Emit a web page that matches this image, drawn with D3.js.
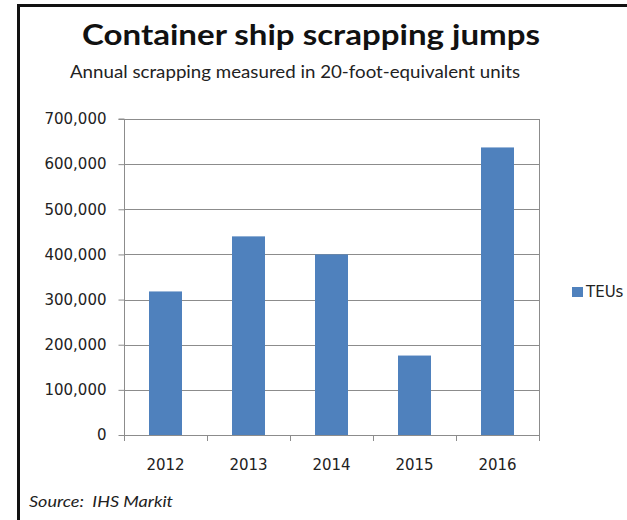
<!DOCTYPE html>
<html><head><meta charset="utf-8">
<script src="https://cdn.jsdelivr.net/npm/d3@7"></script>
<style>body{margin:0;background:#fff}svg{display:block}</style>
</head><body>
<svg id="c" width="627" height="520"></svg>
<script>
const categories = ["2012","2013","2014","2015","2016"];
const teus = [318000, 440000, 400000, 176000, 637000];
const yTicks = [0,100000,200000,300000,400000,500000,600000,700000];
const title = "Container ship scrapping jumps";
const subtitle = "Annual scrapping measured in 20-foot-equivalent units";
const seriesName = "TEUs";
const source = "Source:  IHS Markit";

const svg = d3.select("#c");
const W = 627, H = 520;
const plot = {left:124, right:539, top:119, bottom:435};
const blue = "#4f81bd", grid = "#8c8c8c";

// frame
svg.append("rect").attr("x",18.5).attr("y",5.5).attr("width",W).attr("height",H)
  .attr("fill","none").attr("stroke","#111").attr("stroke-width",3);

const xb = d3.scaleBand().domain(categories).range([plot.left, plot.right]);
const y = d3.scaleLinear().domain([0,700000]).range([plot.bottom, plot.top]);

// gridlines
svg.append("g").selectAll("line").data(yTicks.filter(d=>d>0)).join("line")
  .attr("x1",plot.left).attr("x2",plot.right)
  .attr("y1",d=>Math.round(y(d))+0.5).attr("y2",d=>Math.round(y(d))+0.5)
  .attr("stroke",grid).attr("stroke-width",1);
svg.append("line").attr("x1",plot.right+0.5).attr("x2",plot.right+0.5)
  .attr("y1",plot.top).attr("y2",plot.bottom).attr("stroke",grid);

// bars
svg.append("g").selectAll("rect").data(categories).join("rect")
  .attr("x",(d)=>xb(d)+xb.bandwidth()/2-16.5)
  .attr("width",33)
  .attr("y",(d,i)=>y(teus[i]))
  .attr("height",(d,i)=>plot.bottom-y(teus[i]))
  .attr("fill",blue);

// y axis
const ya = svg.append("g").attr("transform",`translate(${plot.left+0.5},0)`)
  .call(d3.axisLeft(y).tickValues(yTicks).tickSize(6).tickPadding(12)
    .tickFormat(d=>d===0?"0":d3.format(",")(d)));
ya.select(".domain").attr("stroke",grid).attr("d",`M-6,${plot.top}H0V${plot.bottom+5}`);
ya.selectAll(".tick line").attr("stroke",grid);
ya.selectAll("text").attr("font-family","DejaVu Sans").attr("font-size","15px").attr("fill","#222");

// x axis
const xa = svg.append("g").attr("transform",`translate(0,${plot.bottom+0.5})`)
  .call(d3.axisBottom(xb).tickSize(0).tickPadding(24));
xa.select(".domain").attr("stroke",grid).attr("d",`M${plot.left},0H${plot.right}`);
xa.selectAll("text").attr("font-family","DejaVu Sans").attr("font-size","15px").attr("fill","#222");
svg.append("g").selectAll("line").data(categories.concat(["end"])).join("line")
  .attr("x1",(d,i)=>Math.round(plot.left+i*xb.step())+0.5)
  .attr("x2",(d,i)=>Math.round(plot.left+i*xb.step())+0.5)
  .attr("y1",plot.bottom).attr("y2",plot.bottom+6).attr("stroke",grid);

// titles
svg.append("text").attr("x",82).attr("y",45)
  .attr("font-family","Lato").attr("font-weight","bold").attr("font-size","29px").attr("fill","#111")
  .attr("textLength",458).attr("lengthAdjust","spacingAndGlyphs").text(title);
svg.append("text").attr("x",70).attr("y",78)
  .attr("font-family","Lato").attr("font-size","18px").attr("fill","#222")
  .attr("textLength",450).attr("lengthAdjust","spacingAndGlyphs").text(subtitle);

// legend
svg.append("rect").attr("x",572).attr("y",287).attr("width",11).attr("height",10).attr("fill",blue);
svg.append("text").attr("x",586).attr("y",297).attr("font-family","DejaVu Sans").attr("font-size","15px").attr("fill","#222").text(seriesName);

// source
svg.append("text").attr("x",29).attr("y",507).attr("font-family","Lato").attr("font-style","italic")
  .attr("font-size","16px").attr("fill","#222").style("white-space","pre")
  .attr("textLength",144).attr("lengthAdjust","spacingAndGlyphs").text(source);
</script>
</body></html>
